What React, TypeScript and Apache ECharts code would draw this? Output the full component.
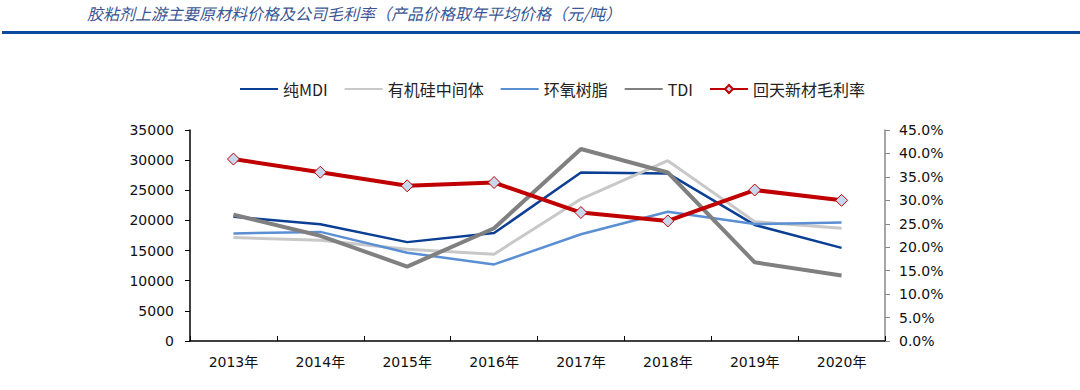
import React, { useEffect, useRef } from "react";
import * as echarts from "echarts";

const categories = ["2013年", "2014年", "2015年", "2016年", "2017年", "2018年", "2019年", "2020年"];
const mdi = [20600, 19350, 16400, 17900, 27950, 27800, 19250, 15450];
const silicone = [17150, 16700, 15200, 14400, 23550, 29900, 19800, 18700];
const epoxy = [17850, 18100, 14650, 12700, 17700, 21450, 19400, 19650];
const tdi = [20950, 17450, 12350, 18700, 31850, 27950, 13050, 10850];
const margin = [0.388, 0.36, 0.331, 0.338, 0.274, 0.256, 0.322, 0.30];
const titleText = "胶粘剂上游主要原材料价格及公司毛利率（产品价格取年平均价格（元/吨）";

export default function App() {
  const ref = useRef<HTMLDivElement>(null);
  useEffect(() => {
    if (!ref.current) return;
    const chart = echarts.init(ref.current, null, { renderer: "svg" });
    const cjk = "'Noto Sans CJK SC', 'DejaVu Sans', sans-serif";
    const num = "'DejaVu Sans', 'Noto Sans CJK SC', sans-serif";
    const hidden = { opacity: 0 };
    chart.setOption({
      animation: false,
      backgroundColor: "#ffffff",
      graphic: [
        {
          type: "text",
          left: 87,
          top: 5,
          style: {
            text: titleText,
            fill: "#3B5694",
            font: "italic 16px 'Noto Sans CJK SC', sans-serif",
          },
        },
        {
          type: "rect",
          shape: { x: 2, y: 31, width: 1078, height: 3 },
          style: { fill: "#0D4A9E" },
        },
      ],
      legend: {
        top: 76,
        left: 234,
        itemWidth: 38,
        itemHeight: 10,
        itemGap: 16,
        textStyle: { fontFamily: cjk, fontSize: 16, color: "#222" },
        data: [
          { name: "纯MDI", itemStyle: hidden },
          { name: "有机硅中间体", itemStyle: hidden },
          { name: "环氧树脂", itemStyle: hidden },
          { name: "TDI", itemStyle: hidden },
          { name: "回天新材毛利率" },
        ],
      },
      grid: { left: 190, right: 195, top: 130, bottom: 49, containLabel: false },
      xAxis: {
        type: "category",
        data: categories,
        boundaryGap: true,
        axisLine: { lineStyle: { color: "#000", width: 1.5 } },
        axisTick: { show: true, inside: true, length: 5, lineStyle: { color: "#000" } },
        axisLabel: { fontFamily: num, fontSize: 14, color: "#111", margin: 14 },
      },
      yAxis: [
        {
          type: "value",
          min: 0,
          max: 35000,
          interval: 5000,
          axisLine: { show: true, lineStyle: { color: "#000", width: 1.5 } },
          axisTick: { show: true, length: 5, lineStyle: { color: "#000" } },
          splitLine: { show: false },
          axisLabel: {
            fontFamily: num,
            fontSize: 14,
            color: "#111",
            margin: 16,
            formatter: (v: number) => String(v),
          },
        },
        {
          type: "value",
          min: 0,
          max: 0.45,
          interval: 0.05,
          position: "right",
          axisLine: { show: true, lineStyle: { color: "#888", width: 1.5 } },
          axisTick: { show: true, length: 5, lineStyle: { color: "#888" } },
          splitLine: { show: false },
          axisLabel: {
            fontFamily: num,
            fontSize: 14,
            color: "#111",
            margin: 14,
            formatter: (v: number) => (v * 100).toFixed(1) + "%",
          },
        },
      ],
      series: [
        {
          name: "纯MDI",
          type: "line",
          data: mdi,
          symbol: "none",
          lineStyle: { color: "#0B3F94", width: 2.5 },
          itemStyle: { color: "#0B3F94" },
        },
        {
          name: "有机硅中间体",
          type: "line",
          data: silicone,
          symbol: "none",
          lineStyle: { color: "#C8C8C8", width: 3 },
          itemStyle: { color: "#C8C8C8" },
        },
        {
          name: "环氧树脂",
          type: "line",
          data: epoxy,
          symbol: "none",
          lineStyle: { color: "#5B8FD3", width: 2.5 },
          itemStyle: { color: "#5B8FD3" },
        },
        {
          name: "TDI",
          type: "line",
          data: tdi,
          symbol: "none",
          lineStyle: { color: "#808080", width: 4 },
          itemStyle: { color: "#808080" },
        },
        {
          name: "回天新材毛利率",
          type: "line",
          yAxisIndex: 1,
          data: margin,
          symbol: "diamond",
          symbolSize: 12,
          lineStyle: { color: "#C00000", width: 4 },
          itemStyle: { color: "#C9D7EC", borderColor: "#C00000", borderWidth: 1 },
        },
      ],
    });
    return () => chart.dispose();
  }, []);
  return (
    <div
      ref={ref}
      style={{ position: "fixed", left: 0, top: 0, width: 1080, height: 390 }}
    />
  );
}
